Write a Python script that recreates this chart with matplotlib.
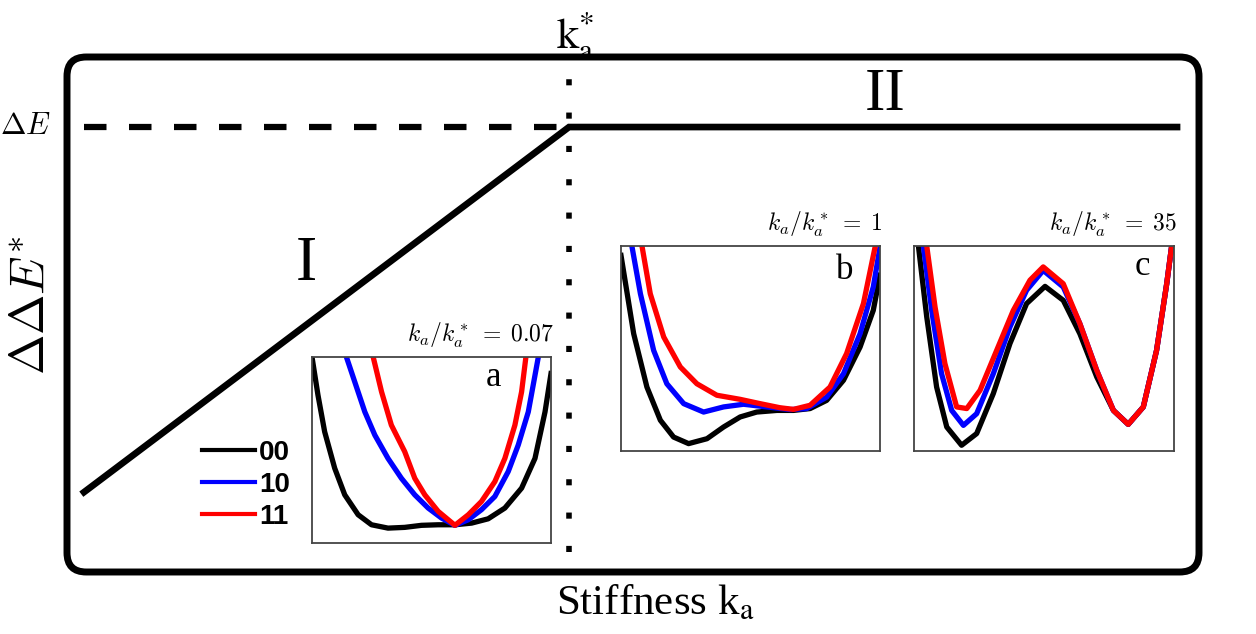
import numpy as np
import matplotlib.pyplot as plt
from matplotlib.patches import FancyBboxPatch
from matplotlib.lines import Line2D

plt.rcParams['mathtext.fontset'] = 'stix'

# main schematic: energy gap vs stiffness (normalised units)
ka = [0.015, 0.4435, 0.9806]
dde = [0.155, 0.864, 0.864]
k_star = 0.4435
dE = 0.864
dot_span = [0.039, 0.980]

# inset a  (k_a/k_a* = 0.07)
a_x_00 = [0, .025, .053, .095, .137, .193, .249, .318, .388, .458, .528, .598, .668, .737, .807, .877, .933, .975, 1.0]
a_y_00 = [1.0, .795, .598, .402, .259, .152, .098, .080, .084, .095, .098, .098, .107, .130, .188, .295, .455, .705, .911]
a_x_10 = [.144, .179, .221, .263, .318, .374, .430, .486, .542, .598, .654, .709, .765, .821, .863, .905, .947]
a_y_10 = [1.0, .866, .705, .580, .455, .348, .259, .188, .134, .095, .125, .179, .250, .384, .527, .705, 1.0]
a_x_11 = [.256, .291, .332, .388, .430, .472, .528, .598, .654, .709, .765, .807, .849, .877, .895]
a_y_11 = [1.0, .813, .634, .491, .348, .259, .170, .095, .152, .223, .330, .455, .634, .813, 1.0]

# inset b  (k_a/k_a* = 1)
b_x_00 = [0, .049, .100, .152, .203, .261, .332, .396, .460, .524, .602, .666, .730, .794, .859, .923, .974, 1.0]
b_y_00 = [.954, .572, .312, .150, .068, .036, .060, .117, .166, .190, .198, .198, .207, .247, .345, .507, .686, .857]
b_x_10 = [.042, .075, .126, .177, .242, .319, .396, .473, .563, .653, .717, .794, .859, .923, .974, 1.0]
b_y_10 = [1.0, .767, .491, .328, .231, .190, .215, .228, .215, .202, .207, .263, .377, .572, .800, .995]
b_x_11 = [.081, .113, .165, .229, .293, .370, .460, .537, .614, .666, .730, .807, .871, .936, .981]
b_y_11 = [1.0, .767, .556, .410, .328, .272, .252, .231, .211, .203, .223, .312, .475, .719, .995]

# inset c  (k_a/k_a* = 35)
c_x_00 = [.017, .049, .087, .126, .183, .241, .305, .369, .433, .504, .574, .638, .703, .767, .824, .882, .933, .972, .991]
c_y_00 = [1.0, .654, .312, .117, .028, .085, .280, .524, .719, .803, .735, .572, .361, .198, .130, .215, .491, .816, 1.0]
c_x_10 = [.036, .068, .106, .145, .190, .241, .305, .369, .433, .497, .574, .638, .703, .767, .824, .882, .933, .972, .991]
c_y_10 = [1.0, .686, .377, .198, .125, .182, .377, .605, .784, .881, .800, .621, .393, .198, .130, .215, .491, .816, 1.0]
c_x_11 = [.049, .081, .119, .164, .203, .254, .318, .382, .446, .497, .574, .638, .703, .767, .824, .882, .933, .972, .991]
c_y_11 = [1.0, .702, .426, .215, .207, .296, .491, .686, .833, .898, .816, .621, .393, .198, .130, .215, .491, .816, 1.0]

labels = ['00', '10', '11']
colors = ['black', '#0000ff', '#ff0000']

W, H = 1256, 634
fig = plt.figure(figsize=(W / 100, H / 100), dpi=100)


def fx(x):
    return x / W


def fy(y):
    return 1 - y / H


def rect(x0, y0, x1, y1):
    return [fx(x0), fy(y1), fx(x1) - fx(x0), fy(y0) - fy(y1)]


# main axes = rounded frame
ax = fig.add_axes(rect(67, 57, 1199, 572))
ax.set_xlim(0, 1)
ax.set_ylim(0, 1)
ax.axis('off')
asp = (1199 - 67) / (572 - 57)
frame = FancyBboxPatch((0, 0), 1, 1, boxstyle='round,pad=0,rounding_size=0.017',
                       mutation_aspect=asp, transform=ax.transAxes,
                       fill=False, lw=5, ec='black', clip_on=False)
ax.add_patch(frame)

ax.plot(ka, dde, color='black', lw=4.8, solid_joinstyle='miter')
ax.plot([ka[0], k_star], [dE, dE], color='black', lw=4.5,
        linestyle=(0, (3.6, 3.6)), dash_capstyle='butt')
ax.plot([k_star, k_star], dot_span, color='black', lw=4,
        linestyle=(0, (1.1, 4.9)), dash_capstyle='butt')

# texts
fig.text(fx(575), fy(36), r'$\mathrm{k}_{\mathrm{a}}^{*}$', fontsize=32, ha='center', va='center')
fig.text(fx(25), fy(125), r'$\Delta E$', fontsize=22, ha='center', va='center', math_fontfamily='cm')
fig.text(fx(30), fy(305), r'$\Delta\Delta E^{*}$', fontsize=35, ha='center', va='center',
         rotation=90, math_fontfamily='cm')
fig.text(fx(306), fy(265), 'I', fontsize=46, family='Liberation Serif', ha='center', va='center')
fig.text(fx(885), fy(95), 'II', fontsize=44, family='Liberation Serif', ha='center', va='center')
fig.text(fx(655), fy(603), r'Stiffness k$_{\mathrm{a}}$', fontsize=31, family='Liberation Serif',
         ha='center', va='center')

insets = [
    (rect(312, 357, 551, 543), [(a_x_00, a_y_00), (a_x_10, a_y_10), (a_x_11, a_y_11)],
     r'$k_a/k_a^*\;=\;0.07$', 'a', (0.76, 0.89)),
    (rect(621, 246, 880, 451), [(b_x_00, b_y_00), (b_x_10, b_y_10), (b_x_11, b_y_11)],
     r'$k_a/k_a^*\;=\;1$', 'b', (0.865, 0.88)),
    (rect(914, 246, 1174, 451), [(c_x_00, c_y_00), (c_x_10, c_y_10), (c_x_11, c_y_11)],
     r'$k_a/k_a^*\;=\;35$', 'c', (0.88, 0.90)),
]

for pos, curves, title, tag, tagpos in insets:
    ia = fig.add_axes(pos)
    ia.set_xlim(0, 1)
    ia.set_ylim(0, 1)
    ia.set_xticks([])
    ia.set_yticks([])
    for s in ia.spines.values():
        s.set_color('#444444')
        s.set_linewidth(1.3)
    for (xs, ys), c in zip(curves, colors):
        ia.plot(xs, ys, color=c, lw=3.8, solid_joinstyle='round')
    ia.annotate(title, xy=(1, 1), xycoords='axes fraction', xytext=(2, 11),
                textcoords='offset points', ha='right', va='baseline', fontsize=17,
                math_fontfamily='cm')
    ia.text(tagpos[0], tagpos[1], tag, transform=ia.transAxes, ha='center', va='center',
            fontsize=25, family='Liberation Serif')

leg_handles = [Line2D([], [], color=c, lw=3) for c in colors]
fig.legend(leg_handles, labels, loc='center left',
           bbox_to_anchor=(fx(188), fy(485)), frameon=False,
           prop={'family': 'Liberation Sans', 'weight': 'bold', 'size': 20},
           handlelength=1.9, handletextpad=0.15, labelspacing=0.22, borderpad=0)

fig.savefig('out.png', dpi=100)
